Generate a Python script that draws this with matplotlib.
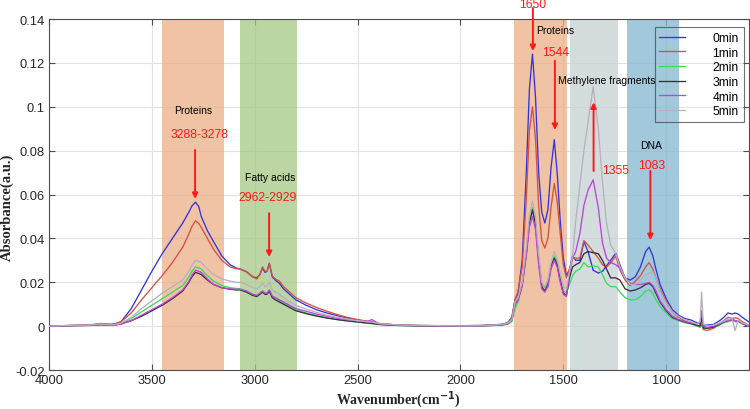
import matplotlib
matplotlib.use("Agg")
import matplotlib.pyplot as plt
from matplotlib.ticker import FuncFormatter, MultipleLocator

# ---------------- data ----------------
wavenumber = [
    4000, 3900, 3800, 3750, 3700, 3680, 3650,
    3600, 3550, 3500, 3450, 3400, 3350, 3320, 3305, 3288, 3272,
    3260, 3230, 3200, 3160, 3120, 3090, 3070, 3040, 3010, 2990, 2975, 2962, 2950, 2940, 2929, 2915, 2900, 2880, 2860, 2830, 2800,
    2750, 2700, 2650, 2600, 2550, 2500, 2450, 2430, 2400, 2350, 2300, 2200, 2100, 2000, 1900, 1800, 1770,
    1750, 1735, 1720, 1700, 1680, 1665, 1650, 1635, 1620, 1605, 1590, 1575, 1560, 1544, 1530, 1515, 1500, 1485,
    1470, 1455, 1440, 1420, 1400, 1380, 1355, 1330, 1310, 1290, 1270, 1245, 1225, 1200,
    1175, 1150, 1125, 1100, 1083, 1065, 1050, 1030, 1000, 970, 940, 910, 880, 850, 835, 828, 820, 800, 770, 740, 720, 700, 680, 665, 650, 630, 600,
]

abs_0min = [
    0, 0.0003, 0.0005, 0.001, 0.0008, 0.001, 0.002,
    0.008, 0.0165, 0.025, 0.033, 0.040, 0.047, 0.052, 0.0548, 0.0565, 0.0545,
    0.050, 0.0435, 0.0385, 0.032, 0.028, 0.0265, 0.026, 0.0248, 0.0225, 0.022, 0.0235, 0.0265, 0.0245, 0.025, 0.0287, 0.0225, 0.021, 0.0195, 0.017, 0.0145, 0.012,
    0.0095, 0.0075, 0.006, 0.0048, 0.0037, 0.0028, 0.002, 0.0018, 0.0012, 0.0008, 0.0005, 0.0003, 0.0002, 0.0002, 0.0003, 0.0008, 0.0015,
    0.004, 0.012, 0.015, 0.03, 0.07, 0.108, 0.124, 0.104, 0.07, 0.052, 0.047, 0.053, 0.072, 0.085, 0.07, 0.048, 0.031, 0.023,
    0.026, 0.032, 0.030, 0.030, 0.0385, 0.034, 0.0255, 0.0242, 0.025, 0.0275, 0.030, 0.0333, 0.028, 0.022,
    0.021, 0.0225, 0.027, 0.034, 0.036, 0.032, 0.026, 0.019, 0.0125, 0.0075, 0.005, 0.0035, 0.0028, 0.0015, 0.001, 0.002, 0.0005, 0.0005, 0.0008, 0.0025, 0.004, 0.006, 0.0055, 0.006, 0.0055, 0.004, 0.002,
]

abs_1min = [
    0, 0.0003, 0.0006, 0.0012, 0.0008, 0.001, 0.002,
    0.006, 0.012, 0.0175, 0.023, 0.029, 0.036, 0.042, 0.0455, 0.048, 0.0468,
    0.045, 0.040, 0.035, 0.030, 0.027, 0.0262, 0.026, 0.0248, 0.0225, 0.0215, 0.0235, 0.027, 0.025, 0.025, 0.0285, 0.023, 0.0215, 0.0205, 0.018, 0.0155, 0.013,
    0.0105, 0.0085, 0.0068, 0.0053, 0.004, 0.003, 0.0022, 0.002, 0.0013, 0.0008, 0.0005, 0.0003, 0.0002, 0.0002, 0.0003, 0.0008, 0.0015,
    0.004, 0.012, 0.016, 0.027, 0.058, 0.089, 0.100, 0.085, 0.055, 0.039, 0.0356, 0.040, 0.054, 0.065, 0.057, 0.042, 0.028, 0.022,
    0.026, 0.031, 0.031, 0.031, 0.039, 0.037, 0.034, 0.031, 0.028, 0.027, 0.0287, 0.032, 0.0255, 0.021,
    0.0185, 0.0205, 0.023, 0.027, 0.029, 0.026, 0.022, 0.017, 0.011, 0.0065, 0.004, 0.0025, 0.0015, 0.0005, -0.0005, 0.001, -0.0015, -0.002, -0.001, 0.001, 0.0025, 0.004, 0.0035, 0.0038, 0.0035, 0.002, 0.0005,
]

abs_2min = [
    0, 0.0002, 0.0004, 0.0008, 0.0005, 0.0006, 0.0012,
    0.0035, 0.0065, 0.0095, 0.0125, 0.0155, 0.0185, 0.0225, 0.025, 0.027, 0.0265,
    0.026, 0.023, 0.0205, 0.0185, 0.0175, 0.0172, 0.017, 0.016, 0.0145, 0.014, 0.015, 0.016, 0.015, 0.015, 0.0165, 0.0135, 0.0125, 0.0115, 0.0105, 0.009, 0.0075,
    0.006, 0.0048, 0.0038, 0.003, 0.0024, 0.0018, 0.0013, 0.0012, 0.0008, 0.0005, 0.0003, 0.0001, 0.0, 0.0, 0.0001, 0.0005, 0.001,
    0.002, 0.008, 0.011, 0.019, 0.034, 0.048, 0.054, 0.047, 0.031, 0.0195, 0.0175, 0.020, 0.028, 0.032, 0.029, 0.022, 0.016, 0.015,
    0.019, 0.023, 0.025, 0.026, 0.029, 0.027, 0.0275, 0.027, 0.0235, 0.0195, 0.018, 0.018, 0.0155, 0.013,
    0.012, 0.012, 0.0135, 0.016, 0.0165, 0.015, 0.012, 0.009, 0.006, 0.0035, 0.0025, 0.0015, 0.001, 0.0, -0.0005, 0.003, -0.001, -0.001, -0.0005, 0.0005, 0.0015, 0.002, 0.0025, 0.002, 0.002, 0.001, 0.0,
]

abs_3min = [
    0, 0.0002, 0.0003, 0.0006, 0.0004, 0.0005, 0.001,
    0.0025, 0.0045, 0.007, 0.0095, 0.0125, 0.016, 0.020, 0.0225, 0.0245, 0.024,
    0.0235, 0.021, 0.019, 0.0175, 0.0168, 0.0165, 0.0165, 0.0155, 0.014, 0.0135, 0.0145, 0.0155, 0.0145, 0.0145, 0.016, 0.013, 0.012, 0.011, 0.010, 0.0085, 0.007,
    0.0057, 0.0046, 0.0037, 0.003, 0.0024, 0.0019, 0.0014, 0.0012, 0.0008, 0.0005, 0.0003, 0.0001, 0.0, 0.0, 0.0001, 0.0005, 0.001,
    0.003, 0.010, 0.012, 0.019, 0.033, 0.047, 0.053, 0.046, 0.030, 0.018, 0.016, 0.019, 0.027, 0.031, 0.028, 0.021, 0.015, 0.014,
    0.022, 0.027, 0.028, 0.029, 0.033, 0.034, 0.0335, 0.033, 0.030, 0.026, 0.022, 0.022, 0.021, 0.017,
    0.016, 0.0165, 0.0175, 0.019, 0.0195, 0.018, 0.015, 0.011, 0.007, 0.004, 0.0028, 0.002, 0.0012, 0.0003, 0.0, 0.004, -0.0008, -0.001, -0.0005, 0.0008, 0.002, 0.0025, 0.003, 0.0025, 0.0025, 0.0012, 0.0,
]

abs_4min = [
    0, 0.0002, 0.0004, 0.0007, 0.0005, 0.0005, 0.001,
    0.0025, 0.005, 0.0075, 0.010, 0.013, 0.0165, 0.0205, 0.0232, 0.0255, 0.025,
    0.0245, 0.0215, 0.019, 0.0175, 0.017, 0.0168, 0.0168, 0.016, 0.0145, 0.014, 0.015, 0.016, 0.015, 0.015, 0.0165, 0.0138, 0.013, 0.012, 0.011, 0.0095, 0.008,
    0.0068, 0.0055, 0.0045, 0.0036, 0.0029, 0.0024, 0.0022, 0.003, 0.0012, 0.0008, 0.0005, 0.0002, 0.0001, 0.0001, 0.0002, 0.0006, 0.0012,
    0.003, 0.010, 0.012, 0.018, 0.032, 0.045, 0.050, 0.044, 0.028, 0.017, 0.0155, 0.018, 0.026, 0.030, 0.027, 0.020, 0.0145, 0.0135,
    0.024, 0.031, 0.034, 0.042, 0.055, 0.062, 0.0667, 0.054, 0.038, 0.031, 0.029, 0.028, 0.0264, 0.022,
    0.0195, 0.019, 0.019, 0.0195, 0.020, 0.0185, 0.016, 0.0115, 0.0075, 0.0045, 0.003, 0.0022, 0.0015, 0.001, 0.002, 0.007, 0.0, -0.0005, 0.0, 0.001, 0.002, 0.0025, 0.003, 0.0025, 0.0025, 0.0012, 0.0,
]

abs_5min = [
    0, 0.0003, 0.0005, 0.0009, 0.0006, 0.0007, 0.0014,
    0.004, 0.008, 0.0115, 0.015, 0.018, 0.021, 0.025, 0.0278, 0.030, 0.0295,
    0.029, 0.026, 0.0235, 0.0215, 0.0205, 0.020, 0.020, 0.019, 0.0175, 0.017, 0.018, 0.0195, 0.018, 0.0185, 0.020, 0.0165, 0.0155, 0.0145, 0.013, 0.011, 0.0095,
    0.0078, 0.0063, 0.005, 0.004, 0.0032, 0.0025, 0.002, 0.0018, 0.0012, 0.0008, 0.0005, 0.0003, 0.0002, 0.0001, 0.0002, 0.0007, 0.0013,
    0.003, 0.011, 0.013, 0.02, 0.036, 0.05, 0.057, 0.05, 0.033, 0.02, 0.018, 0.021, 0.029, 0.034, 0.031, 0.024, 0.018, 0.017,
    0.025, 0.032, 0.048, 0.064, 0.080, 0.093, 0.109, 0.090, 0.066, 0.047, 0.037, 0.033, 0.027, 0.022,
    0.019, 0.019, 0.021, 0.0235, 0.024, 0.025, 0.022, 0.016, 0.0105, 0.0065, 0.0045, 0.003, 0.002, 0.001, 0.002, 0.0155, 0.001, 0.0, 0.0005, 0.0015, 0.0025, 0.003, 0.0035, -0.002, 0.003, 0.0015, 0.0005,
]

series_labels = ["0min", "1min", "2min", "3min", "4min", "5min"]
series_values = [abs_0min, abs_1min, abs_2min, abs_3min, abs_4min, abs_5min]
series_colors = ["#3434E0", "#D8503E", "#3CDC5A", "#333333", "#C040E0", "#B8B0C0"]

band_ranges = [(3450, 3150), (3070, 2795), (1740, 1480), (1470, 1235), (1190, 940)]
band_colors = ["#EBAF87", "#A4C784", "#C6D2D4", "#83B6CF"]
band_color_list = [band_colors[0], band_colors[1], band_colors[0], band_colors[2], band_colors[3]]

x_ticks = [4000, 3500, 3000, 2500, 2000, 1500, 1000]

# ---------------- figure ----------------
plt.rcParams['font.family'] = ['Liberation Sans', 'DejaVu Sans']
fig = plt.figure(figsize=(7.5, 4.1), dpi=100)
ax = fig.add_axes([0.0653, 0.0951, 0.9327, 0.8561])

for (a, b), c in zip(band_ranges, band_color_list):
    ax.axvspan(b, a, color=c, alpha=0.75, lw=0, zorder=1)

for lab, vals, col in zip(series_labels, series_values, series_colors):
    ax.plot(wavenumber, vals, color=col, lw=0.95, label=lab, zorder=3)

ax.set_xlim(4000, 600)
ax.set_ylim(-0.02, 0.14)
ax.set_xticks(x_ticks)
ax.yaxis.set_major_locator(MultipleLocator(0.02))
ax.yaxis.set_major_formatter(FuncFormatter(lambda v, p: "%g" % round(v, 3)))

ax.set_axisbelow(True)
ax.grid(True, color="#E2E2E2", lw=0.8, zorder=0)
for s in ax.spines.values():
    s.set_color("#4D4D4D")
    s.set_linewidth(0.8)
ax.tick_params(direction="in", top=True, right=True, length=4, width=0.8,
               color="#4D4D4D", labelsize=9.3, labelcolor="#262626", pad=3)

ax.set_xlabel("Wavenumber(cm$^{\\mathbf{-1}}$)", fontfamily="Liberation Serif",
              fontweight="bold", fontsize=10, labelpad=1, color="#262626")
ax.set_ylabel("Absorbance(a.u.)", fontfamily="Liberation Serif",
              fontweight="bold", fontsize=10.5, color="#262626")
ax.yaxis.set_label_coords(-0.05, 0.467)

red = "#FF1A1A"
arw = dict(arrowstyle="-|>", color=red, lw=1.4, mutation_scale=8, shrinkA=0, shrinkB=0)

# text annotations
ax.text(3300, 0.0985, "Proteins", fontsize=7.5, ha="center", va="center")
ax.text(3270, 0.0876, "3288-3278", fontsize=8.7, color=red, ha="center", va="center")
ax.annotate("", xy=(3290, 0.058), xytext=(3290, 0.0803), arrowprops=arw)

ax.text(2925, 0.068, "Fatty acids", fontsize=7.5, ha="center", va="center")
ax.text(2935, 0.0588, "2962-2929", fontsize=8.7, color=red, ha="center", va="center")
ax.annotate("", xy=(2930, 0.0315), xytext=(2930, 0.0515), arrowprops=arw)

ax.text(1647, 0.147, "1650", fontsize=8.7, color=red, ha="center", va="center", clip_on=False)
ax.annotate("", xy=(1648, 0.1254), xytext=(1648, 0.145), arrowprops=arw, annotation_clip=False)

ax.text(1539, 0.135, "Proteins", fontsize=7.5, ha="center", va="center")
ax.text(1539, 0.125, "1544", fontsize=8.7, color=red, ha="center", va="center")
ax.annotate("", xy=(1541, 0.0894), xytext=(1541, 0.121), arrowprops=arw)

ax.text(1287, 0.112, "Methylene fragments", fontsize=7.5, ha="center", va="center", zorder=4)
ax.text(1247, 0.0711, "1355", fontsize=8.7, color=red, ha="center", va="center")
ax.annotate("", xy=(1353, 0.102), xytext=(1353, 0.0707), arrowprops=arw)

ax.text(1073, 0.0825, "DNA", fontsize=7.5, ha="center", va="center")
ax.text(1073, 0.0734, "1083", fontsize=8.7, color=red, ha="center", va="center")
ax.annotate("", xy=(1077, 0.0392), xytext=(1077, 0.0707), arrowprops=arw)

leg = ax.legend(loc="upper right", bbox_to_anchor=(0.993, 0.977), borderaxespad=0,
                fontsize=8.7, frameon=True, fancybox=False, handlelength=2.1,
                handletextpad=2.3, labelspacing=0.22, borderpad=0.4)
leg.get_frame().set_facecolor("none")
leg.get_frame().set_edgecolor("#4D4D4D")
leg.get_frame().set_linewidth(0.8)
leg.set_zorder(5)

fig.savefig("out.png", dpi=100)
